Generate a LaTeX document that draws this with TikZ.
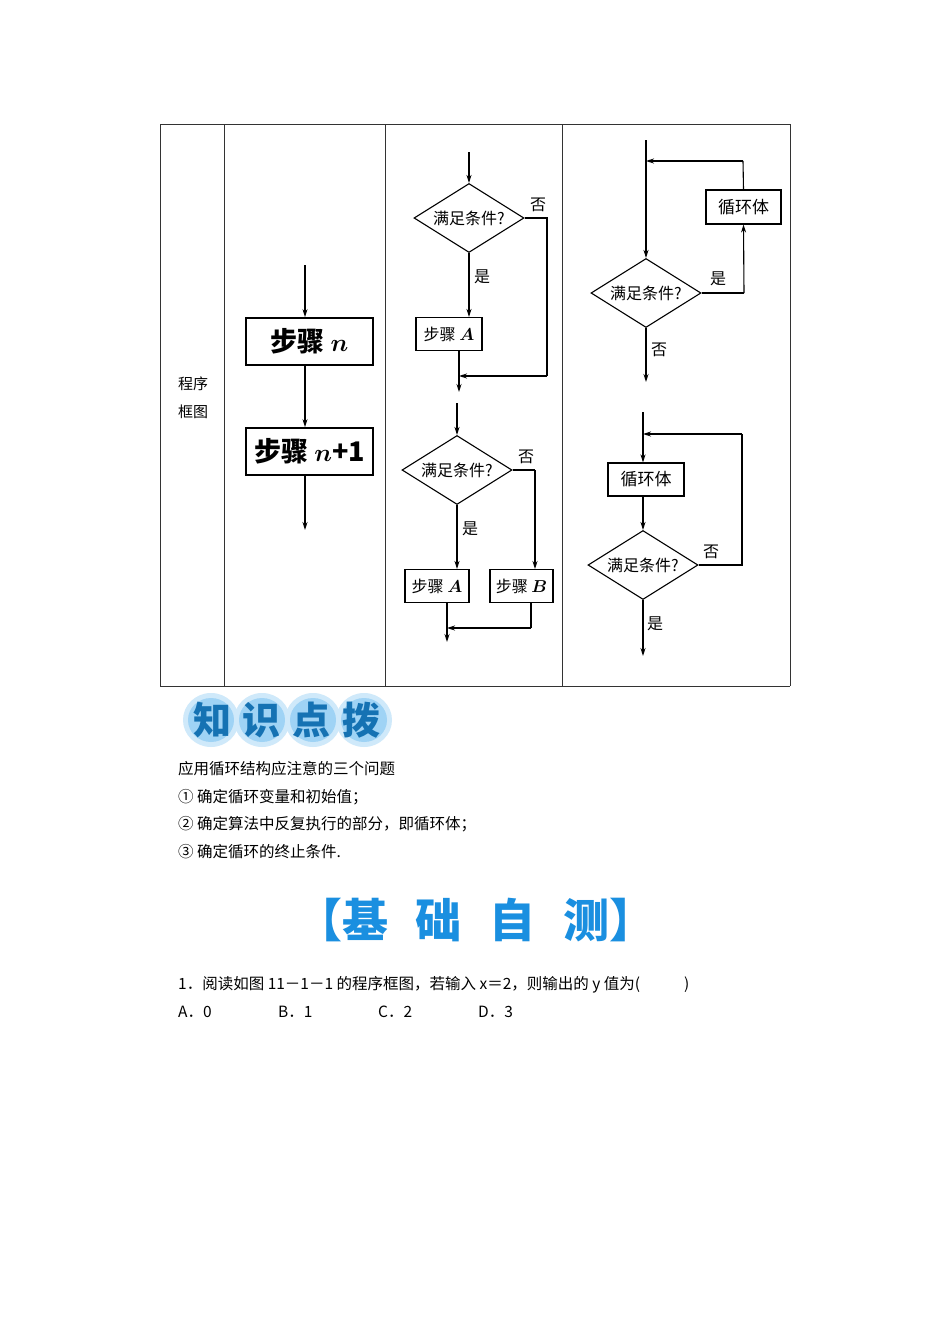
\documentclass[tikz,border=0pt]{standalone}
\usepackage{amsmath}
\usepackage{fontspec}
\setmainfont{Noto Sans CJK SC}
\usetikzlibrary{arrows.meta,shapes.geometric}
\definecolor{bannerblue}{HTML}{1A8FE0}
\definecolor{glow}{HTML}{9FD3F5}
\tikzset{
 ln/.style={line width=1.1pt},
 arr/.style={ln,-{Stealth[length=8pt,width=5pt]}},
 bx/.style={draw,line width=1.1pt,minimum width=66pt,minimum height=33pt,font=\fontsize{16}{16}\selectfont,inner sep=0pt},
 bigbx/.style={draw,line width=1.8pt,minimum width=127pt,minimum height=47pt,font=\fontsize{27}{27}\selectfont\bfseries,inner sep=0pt},
 dia/.style={draw,line width=1.1pt,diamond,aspect=1.6,minimum width=110pt,minimum height=69pt,inner sep=0pt,font=\fontsize{16}{16}\selectfont},
 lab/.style={font=\fontsize{16}{16}\selectfont,inner sep=0pt},
 txt/.style={font=\fontsize{15.5}{15.5}\selectfont,inner sep=0pt,anchor=west},
 grid/.style={line width=0.8pt,draw=black!80}
}
\begin{document}
\begin{tikzpicture}[x=1pt,y=-1pt]
\useasboundingbox[fill=white] (0,0) rectangle (950,1344);
% table
\draw[grid] (160,124) -- (790,124);
\draw[grid] (160,686) -- (790,686);
\foreach \x in {160,224,385,562,790} \draw[grid] (\x,124) -- (\x,686);
\node[lab,font=\fontsize{15}{15}\selectfont] (t1) at (193,384) {程序};
\node[lab,font=\fontsize{15}{15}\selectfont] (t2) at (193,412) {框图};
% column 2
\coordinate (s0) at (305,265);
\node[bigbx] (sn) at (309.5,341.5) {步骤 $\boldsymbol{n}$};
\node[bigbx] (sn1) at (309.5,451.5) {步骤 $\boldsymbol{n}$\textbf{+1}};
\coordinate (s9) at (305,530);
\draw[arr] (s0) -- (s0|-sn.north);
\draw[arr] (s0|-sn.south) -- (s0|-sn1.north);
\draw[arr] (s0|-sn1.south) -- (s9);
% column 3 top
\coordinate (a0) at (469,152);
\node[dia] (d1) at (469,218) {满足条件?};
\node[bx] (ba) at (449,334) {步骤 $\boldsymbol{A}$};
\coordinate (am) at (459,376);
\coordinate (a9) at (459,392);
\draw[arr] (a0) -- (d1.north);
\draw[arr] (d1.south) -- (d1.south|-ba.north);
\draw[ln] (d1.east) -- (547,218) -- (547,376);
\draw[arr] (547,376) -- (am);
\draw[arr] (am|-ba.south) -- (a9);
\node[lab] (y1) at (482,277) {是};
\node[lab] (n1) at (538,205) {否};
% column 3 bottom
\coordinate (b0) at (457,403);
\node[dia] (d2) at (457,470) {满足条件?};
\node[bx,minimum width=64pt] (bA) at (437,586) {步骤 $\boldsymbol{A}$};
\node[bx,minimum width=63pt] (bB) at (521.5,586) {步骤 $\boldsymbol{B}$};
\coordinate (bm) at (447,628);
\coordinate (b9) at (447,642);
\draw[arr] (b0) -- (d2.north);
\draw[arr] (d2.south) -- (d2.south|-bA.north);
\draw[ln] (d2.east) -- (535,470);
\draw[arr] (535,470) -- (535,569);
\draw[ln] (531,603) -- (531,628);
\draw[arr] (531,628) -- (bm);
\draw[arr] (bm|-bA.south) -- (b9);
\node[lab] (y2) at (470,529) {是};
\node[lab] (n2) at (526,457) {否};
% column 4 top
\coordinate (c0) at (646,140);
\node[dia] (d3) at (646,293) {满足条件?};
\node[bx,minimum width=75pt,minimum height=34pt,font=\fontsize{17}{17}\selectfont] (lb1) at (743.5,207) {循环体};
\coordinate (c9) at (646,382);
\draw[arr] (c0) -- (d3.north);
\draw[ln] (d3.east) -- (744,293);
\draw[arr] (744,293) -- (lb1.south);
\draw[ln] (lb1.north) -- (743,161);
\draw[arr] (743,161) -- (646,161);
\draw[arr] (d3.south) -- (c9);
\node[lab] (y3) at (718,279) {是};
\node[lab] (n3) at (659,350) {否};
% column 4 bottom
\coordinate (e0) at (643,412);
\node[bx,minimum width=76pt,minimum height=33pt,font=\fontsize{17}{17}\selectfont] (lb2) at (646,479.5) {循环体};
\node[dia] (d4) at (643,565) {满足条件?};
\coordinate (e9) at (643,656);
\draw[arr] (e0) -- (e0|-lb2.north);
\draw[arr] (e0|-lb2.south) -- (d4.north);
\draw[ln] (d4.east) -- (742,565) -- (742,434);
\draw[arr] (742,434) -- (643,434);
\draw[arr] (d4.south) -- (e9);
\node[lab] (n4) at (711,552) {否};
\node[lab] (y4) at (655,624) {是};
% banner
\foreach \cx in {211,262,313,364} {
 \fill[glow!50] (\cx,720) ellipse (28pt and 27pt);
 \fill[glow] (\cx,720) ellipse (23pt and 22pt);
}
\node[font=\fontsize{38}{38}\selectfont\bfseries,text=bannerblue!80!black,inner sep=0pt] (bn) at (287,720) {知\hspace{12pt}识\hspace{12pt}点\hspace{12pt}拨};
% text
\node[txt] (p0) at (178,769) {应用循环结构应注意的三个问题};
\node[txt] (p1) at (178,797) {① 确定循环变量和初始值；};
\node[txt] (p2) at (178,824) {② 确定算法中反复执行的部分，即循环体；};
\node[txt] (p3) at (178,852) {③ 确定循环的终止条件.};
\node[font=\fontsize{46}{46}\selectfont\bfseries,text=bannerblue,inner sep=0pt] (hd) at (476,920) {【基\hspace{28pt}础\hspace{28pt}自\hspace{28pt}测】};
\node[txt] (q1) at (178,985) {1．阅读如图 11－1－1 的程序框图，若输入 \textit{x}＝2，则输出的 \textit{y} 值为(\hspace{44pt})};
\node[txt] (oa) at (178,1012) {A．0};
\node[txt] (ob) at (278,1012) {B．1};
\node[txt] (oc) at (378,1012) {C．2};
\node[txt] (od) at (478,1012) {D．3};
\end{tikzpicture}
\end{document}
